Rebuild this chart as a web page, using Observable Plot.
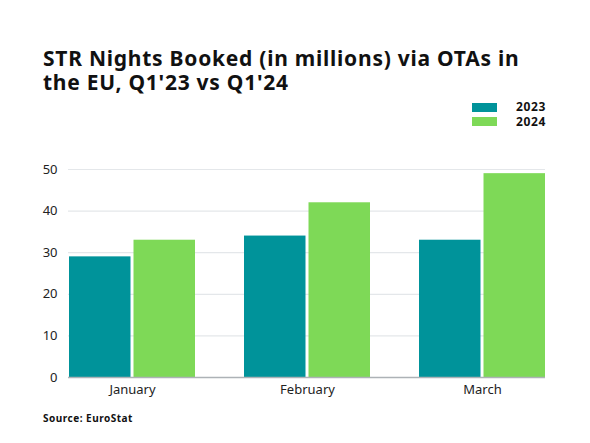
<!DOCTYPE html>
<html>
<head>
<meta charset="utf-8">
<script src="https://cdn.jsdelivr.net/npm/d3@7"></script>
<script src="https://cdn.jsdelivr.net/npm/@observablehq/plot@0.6"></script>
<style>
  body { margin: 0; background: #fff; width: 590px; height: 443px; overflow: hidden; }
  .title { font-family: "Noto Sans", sans-serif; font-weight: 700; font-size: 21px; line-height: 24px;
    letter-spacing: 0.75px; color: #111; padding: 46px 0 0 43px; margin: 0; }
  .legend { margin: 6px 0 0 472px; font-family: "Noto Sans", sans-serif; font-weight: 700; font-size: 12px;
    letter-spacing: 0.6px; color: #111; }
  .legend div { height: 14.5px; line-height: 14.5px; display: flex; align-items: center; }
  .legend span.sw { display: inline-block; width: 25px; height: 9px; margin-right: 19px; }
  .source { font-family: "Noto Sans", sans-serif; font-weight: 700; font-size: 10px; line-height: 12px;
    letter-spacing: 0.5px; color: #111; padding: 5px 0 0 43px; }
</style>
</head>
<body>
<div class="title">STR Nights Booked (in millions) via OTAs in<br>the EU, Q1'23 vs Q1'24</div>
<div class="legend" id="legend"></div>
<div id="chart"></div>
<div class="source">Source: EuroStat</div>
<script>
const months = ["January", "February", "March"];
const years = ["2023", "2024"];
const nights2023 = [29, 34, 33];
const nights2024 = [33, 42, 49];
const yTicks = [0, 10, 20, 30, 40, 50];
const colors = ["#00939a", "#7ed957"];

const rows23 = months.map((m, i) => ({month: m, value: nights2023[i]}));
const rows24 = months.map((m, i) => ({month: m, value: nights2024[i]}));

// legend
d3.select("#legend").selectAll("div").data(years).join("div")
  .html((d, i) => `<span class="sw" style="background:${colors[i]}"></span>${d}`);

const width = 590, ml = 68, mr = 45, pad = 0.282;
const step = (width - ml - mr) / (months.length - pad);
const bw = step * (1 - pad);
const inset = bw / 2 + 1.5;

let chart = Plot.plot({
  width: width,
  height: 278,
  marginLeft: ml,
  marginRight: mr,
  marginTop: 40,
  marginBottom: 30,
  x: {domain: months, paddingInner: pad, paddingOuter: 0, label: null, tickSize: 0, tickPadding: 7},
  y: {domain: [0, 50], ticks: yTicks, label: null, tickSize: 0, tickPadding: 11},
  marks: [
    Plot.ruleY(yTicks, {stroke: "#e4e7ea", strokeWidth: 1.2}),
    Plot.barY(rows23, {x: "month", y: "value", fill: colors[0], insetRight: inset}),
    Plot.barY(rows24, {x: "month", y: "value", fill: colors[1], insetLeft: inset}),
    Plot.ruleY([0], {stroke: "#adb2b6", strokeWidth: 1.5}),
  ],
  style: {
    fontFamily: "Noto Sans, sans-serif",
    fontSize: "13px",
    color: "#222",
    background: "white",
  },
});
d3.select("#chart").append(() => chart);
</script>
</body>
</html>
